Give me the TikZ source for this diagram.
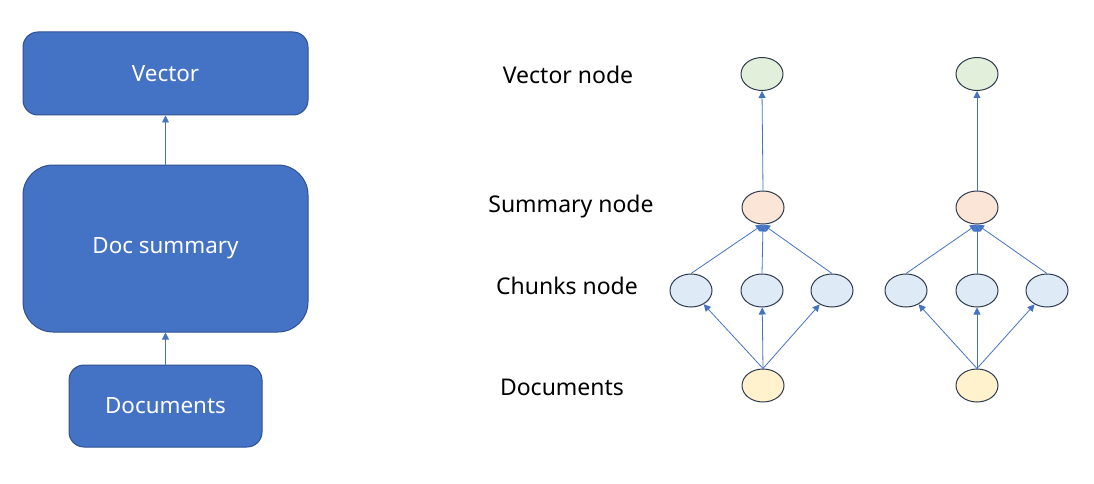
\documentclass[tikz,border=0pt]{standalone}
\usepackage{fontspec}
\setmainfont{Noto Sans}
\usetikzlibrary{arrows.meta,shapes.geometric}
\definecolor{boxblue}{HTML}{4472C4}
\definecolor{boxedge}{HTML}{2F528F}
\definecolor{lineblue}{HTML}{4472C4}
\definecolor{elledge}{HTML}{2E3A4E}
\definecolor{cgreen}{HTML}{E2EFDA}
\definecolor{corange}{HTML}{FBE5D6}
\definecolor{cblue}{HTML}{DEEBF7}
\definecolor{cyellow}{HTML}{FFF2CC}
\tikzset{
  bbox/.style={draw=boxedge, line width=1pt, fill=boxblue, text=white, font=\fontsize{22.4}{26}\selectfont, inner sep=0pt},
  ell/.style={shape=ellipse, draw=elledge, line width=1pt, minimum width=42pt, minimum height=33pt, inner sep=0pt},
  lbl/.style={font=\fontsize{23}{26}\selectfont, inner sep=0pt},
  conn/.style={draw=lineblue, line width=0.8pt, -{Triangle[width=7pt,length=7pt]}}
}
\begin{document}
\begin{tikzpicture}[x=1pt,y=-1pt]
\useasboundingbox (0,0) rectangle (1094,484);
% left column
\node[bbox, rounded corners=15pt, minimum width=285pt, minimum height=83pt] (bv) at (165.5,73.5) {Vector};
\node[bbox, rounded corners=30pt, minimum width=285pt, minimum height=167pt] (bs) at (165.5,248.5) {Doc summary};
\node[bbox, rounded corners=15pt, minimum width=193pt, minimum height=82pt] (bd) at (165.5,406) {Documents};
\draw[conn] (bs.north) -- (bv.south);
\draw[conn] (bd.north) -- (bs.south);
% labels
\node[lbl] (l1) at (568,75) {Vector node};
\node[lbl] (l2) at (571,207) {Summary node};
\node[lbl] (l3) at (567,286) {Chunks node};
\node[lbl] (l4) at (562,387) {Documents};
% tree A
\node[ell, fill=cgreen] (av) at (762,74) {};
\node[ell, fill=corange] (as) at (763,207.5) {};
\node[ell, fill=cblue] (ac1) at (691,290.5) {};
\node[ell, fill=cblue] (ac2) at (762,290.5) {};
\node[ell, fill=cblue] (ac3) at (832,290.5) {};
\node[ell, fill=cyellow] (ad) at (763,385.5) {};
\draw[conn] (as.north) -- (av.south);
\foreach \c in {ac1,ac2,ac3}{
  \draw[conn] (\c.north) -- (as.south);
  \draw[conn] (ad.north) -- (\c);
}
% tree B
\node[ell, fill=cgreen] (bv2) at (977,74) {};
\node[ell, fill=corange] (bs2) at (977,207.5) {};
\node[ell, fill=cblue] (bc1) at (906,290.5) {};
\node[ell, fill=cblue] (bc2) at (977,290.5) {};
\node[ell, fill=cblue] (bc3) at (1047,290.5) {};
\node[ell, fill=cyellow] (bd2) at (977,385.5) {};
\draw[conn] (bs2.north) -- (bv2.south);
\foreach \c in {bc1,bc2,bc3}{
  \draw[conn] (\c.north) -- (bs2.south);
  \draw[conn] (bd2.north) -- (\c);
}
\end{tikzpicture}
\end{document}
